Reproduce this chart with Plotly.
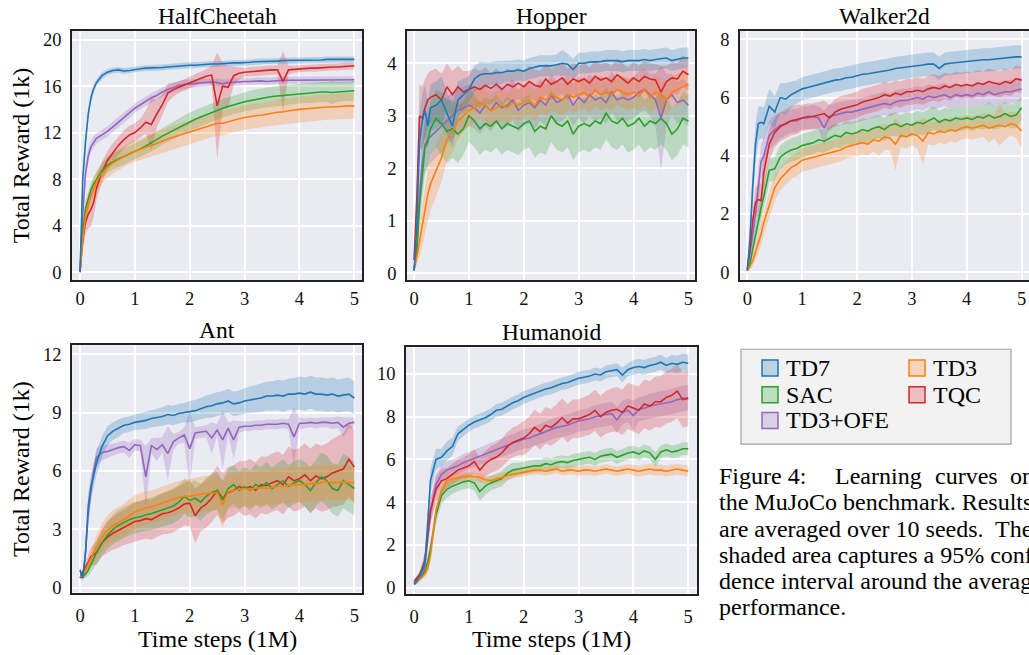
import plotly.graph_objects as go

W, H = 1029, 655
FONT = "Liberation Serif, Times New Roman, serif"

# ---------------- data ----------------
X = [0, 0.05, 0.1, 0.15, 0.2, 0.25,
     0.3, 0.4, 0.5, 0.6, 0.7, 0.8, 0.9,
     1.0, 1.1, 1.2, 1.3, 1.4, 1.5, 1.6, 1.7, 1.8, 1.9,
     2.0, 2.1, 2.2, 2.3, 2.4, 2.5, 2.6, 2.7, 2.8, 2.9,
     3.0, 3.1, 3.2, 3.3, 3.4, 3.5, 3.6, 3.7, 3.8, 3.9,
     4.0, 4.1, 4.2, 4.3, 4.4, 4.5, 4.6, 4.7, 4.8, 4.9, 5.0]

ALGOS = ["TD7", "TD3", "SAC", "TQC", "TD3+OFE"]
COLORS = {"TD7": "#1f77b4", "TD3": "#ff7f0e", "SAC": "#2ca02c",
          "TQC": "#d62728", "TD3+OFE": "#9467bd"}
ENVS = ["HalfCheetah", "Hopper", "Walker2d", "Ant", "Humanoid"]
YTICKS = {"HalfCheetah": [0, 4, 8, 12, 16, 20], "Hopper": [0, 1, 2, 3, 4],
          "Walker2d": [0, 2, 4, 6, 8], "Ant": [0, 3, 6, 9, 12],
          "Humanoid": [0, 2, 4, 6, 8, 10]}
XTICKS = [0, 1, 2, 3, 4, 5]

# HalfCheetah
HC_TD7 = [0, 8.0, 11.2, 13.6, 15.0, 15.8,
          16.3, 16.9, 17.2, 17.35, 17.4, 17.3, 17.35,
          17.45, 17.5, 17.55, 17.55, 17.6, 17.6, 17.65, 17.7, 17.7, 17.75,
          17.8, 17.8, 17.85, 17.9, 17.9, 17.9, 17.95, 17.95, 18.0, 18.0,
          18.0, 18.05, 18.1, 18.1, 18.15, 18.15, 18.15, 18.2, 18.2, 18.2,
          18.2, 18.25, 18.25, 18.25, 18.25, 18.3, 18.3, 18.3, 18.3, 18.3, 18.3]
HC_TD7_CI = [0, 0.8, 0.7, 0.5, 0.4, 0.35,
             0.3, 0.3, 0.25, 0.25, 0.25, 0.25, 0.25,
             0.25, 0.25, 0.25, 0.25, 0.25, 0.25, 0.25, 0.25, 0.25, 0.25,
             0.25, 0.25, 0.25, 0.25, 0.25, 0.25, 0.25, 0.25, 0.25, 0.25,
             0.25, 0.25, 0.25, 0.25, 0.25, 0.25, 0.25, 0.25, 0.25, 0.25,
             0.25, 0.25, 0.25, 0.25, 0.25, 0.25, 0.25, 0.25, 0.25, 0.25, 0.25]
HC_TD3 = [0, 2.8, 4.8, 5.8, 6.6, 7.2,
          7.8, 8.5, 9.0, 9.4, 9.7, 9.95, 10.2,
          10.4, 10.6, 10.75, 10.9, 11.1, 11.3, 11.45, 11.6, 11.75, 11.9,
          12.0, 12.15, 12.3, 12.45, 12.6, 12.8, 12.8, 12.95, 13.1, 13.2,
          13.3, 13.4, 13.45, 13.5, 13.6, 13.7, 13.75, 13.8, 13.9, 13.95,
          14.0, 14.05, 14.1, 14.1, 14.15, 14.2, 14.2, 14.25, 14.25, 14.3, 14.3]
HC_TD3_CI = [0, 0.6, 0.8, 0.9, 0.9, 0.9,
             0.9, 0.9, 0.9, 0.9, 0.9, 0.9, 0.9,
             0.9, 0.9, 0.95, 0.95, 1.0, 1.0, 1.0, 1.0, 1.0, 1.0,
             1.0, 1.0, 1.0, 1.0, 1.0, 1.05, 1.05, 1.05, 1.05, 1.05,
             1.05, 1.05, 1.05, 1.05, 1.05, 1.1, 1.1, 1.1, 1.1, 1.1,
             1.1, 1.1, 1.1, 1.1, 1.1, 1.1, 1.1, 1.1, 1.1, 1.1, 1.1]
HC_SAC = [0, 3.5, 5.5, 6.4, 7.1, 7.6,
          8.0, 8.7, 9.2, 9.5, 9.75, 9.95, 10.15,
          10.4, 10.6, 10.85, 11.1, 11.4, 11.7, 11.95, 12.2, 12.45, 12.7,
          12.95, 13.15, 13.35, 13.55, 13.75, 13.95, 14.1, 14.25, 14.4, 14.55,
          14.65, 14.75, 14.85, 14.95, 15.05, 15.1, 15.15, 15.2, 15.25, 15.3,
          15.35, 15.4, 15.4, 15.45, 15.5, 15.5, 15.45, 15.5, 15.55, 15.6, 15.6]
HC_SAC_CI = [0, 0.5, 0.6, 0.6, 0.6, 0.6,
             0.6, 0.6, 0.65, 0.65, 0.7, 0.7, 0.7,
             0.7, 0.7, 0.7, 0.72, 0.72, 0.72, 0.75, 0.75, 0.75, 0.75,
             0.8, 0.8, 0.8, 0.8, 0.8, 0.8, 0.8, 0.8, 0.8, 0.8,
             0.85, 0.85, 0.85, 0.85, 0.85, 0.85, 0.85, 0.85, 0.85, 0.85,
             0.85, 0.85, 0.85, 0.85, 0.85, 0.85, 1.0, 0.85, 0.85, 0.85, 0.85]
HC_TQC = [0, 2.8, 4.3, 5.0, 5.4, 6.0,
          7.2, 8.6, 9.6, 10.3, 10.9, 11.4, 11.8,
          12.0, 12.4, 12.9, 12.7, 13.6, 14.4, 15.4, 15.7, 15.9, 16.1,
          16.3, 16.5, 16.7, 16.85, 16.95, 14.3, 16.0, 15.9, 16.9, 17.1,
          17.2, 17.25, 17.3, 17.3, 17.35, 17.4, 17.4, 16.4, 17.4, 17.45,
          17.5, 17.5, 17.55, 17.55, 17.6, 17.6, 17.65, 17.65, 17.7, 17.7, 17.75]
HC_TQC_CI = [0, 1.0, 1.0, 1.2, 1.5, 1.2,
             1.0, 0.9, 0.8, 0.8, 0.8, 0.8, 0.8,
             0.8, 0.8, 1.0, 2.3, 1.2, 0.9, 0.8, 0.6, 0.5, 0.5,
             0.5, 0.5, 0.5, 0.6, 0.8, 4.6, 2.0, 1.8, 0.8, 0.5,
             0.4, 0.4, 0.4, 0.4, 0.4, 0.4, 0.4, 2.6, 0.4, 0.3,
             0.3, 0.3, 0.3, 0.3, 0.3, 0.3, 0.3, 0.3, 0.3, 0.3, 0.3]
HC_OFE = [0, 5.0, 8.5, 10.0, 10.8, 11.2,
          11.5, 11.8, 12.1, 12.5, 12.9, 13.3, 13.7,
          14.1, 14.4, 14.7, 15.0, 15.2, 15.5, 15.7, 15.9, 16.05, 16.15,
          16.2, 16.25, 16.3, 16.3, 16.35, 16.3, 16.2, 16.3, 16.35, 16.4,
          16.4, 16.4, 16.45, 16.45, 16.4, 16.45, 16.5, 16.5, 16.5, 16.5,
          16.5, 16.5, 16.55, 16.5, 16.5, 16.55, 16.5, 16.5, 16.55, 16.55, 16.55]
HC_OFE_CI = [0, 0.8, 0.8, 0.6, 0.5, 0.5,
             0.45, 0.45, 0.45, 0.45, 0.45, 0.45, 0.45,
             0.4, 0.4, 0.4, 0.4, 0.4, 0.4, 0.4, 0.4, 0.4, 0.4,
             0.35, 0.35, 0.35, 0.35, 0.35, 0.35, 0.35, 0.35, 0.35, 0.35,
             0.3, 0.3, 0.3, 0.3, 0.3, 0.3, 0.3, 0.3, 0.3, 0.3,
             0.3, 0.3, 0.3, 0.3, 0.3, 0.3, 0.3, 0.3, 0.3, 0.3, 0.3]

# Hopper
HO_TD7 = [0.05, 0.9, 2.5, 2.9, 3.1, 2.8,
          3.15, 3.2, 3.3, 3.05, 2.8, 3.3, 3.4,
          3.5, 3.7, 3.78, 3.8, 3.8, 3.82, 3.82, 3.85, 3.85, 3.87,
          3.85, 3.9, 3.92, 3.95, 3.95, 3.95, 3.97, 4.0, 3.98, 3.88,
          4.0, 4.0, 4.02, 4.02, 4.03, 4.05, 4.05, 4.05, 4.03, 4.05,
          4.05, 4.05, 4.07, 4.05, 4.07, 4.08, 4.1, 4.05, 4.08, 4.1, 4.1]
HO_TD7_CI = [0, 0.2, 0.5, 0.5, 0.5, 0.45,
             0.45, 0.45, 0.45, 0.4, 0.4, 0.35, 0.3,
             0.25, 0.25, 0.25, 0.22, 0.22, 0.22, 0.22, 0.2, 0.2, 0.2,
             0.2, 0.2, 0.2, 0.2, 0.2, 0.2, 0.2, 0.25, 0.2, 0.2,
             0.2, 0.2, 0.2, 0.2, 0.2, 0.2, 0.2, 0.2, 0.2, 0.2,
             0.2, 0.2, 0.2, 0.2, 0.2, 0.2, 0.2, 0.2, 0.2, 0.2, 0.2]
HO_TD3 = [0.1, 0.3, 0.6, 0.9, 1.2, 1.5,
          1.7, 1.95, 2.2, 2.55, 2.7, 2.9, 3.0,
          3.1, 3.15, 3.25, 3.2, 3.1, 3.15, 3.2, 3.15, 3.25, 3.2,
          3.25, 3.3, 3.2, 3.35, 3.3, 3.4, 3.35, 3.3, 3.4, 3.35,
          3.4, 3.45, 3.35, 3.5, 3.4, 3.45, 3.4, 3.5, 3.45, 3.4,
          3.45, 3.4, 3.5, 3.35, 3.45, 3.4, 3.3, 3.45, 3.5, 3.55, 3.6]
HO_TD3_CI = [0, 0.15, 0.3, 0.4, 0.45, 0.5,
             0.5, 0.5, 0.45, 0.4, 0.4, 0.35, 0.3,
             0.3, 0.3, 0.3, 0.3, 0.3, 0.3, 0.3, 0.3, 0.3, 0.3,
             0.3, 0.3, 0.3, 0.3, 0.3, 0.3, 0.3, 0.3, 0.3, 0.3,
             0.3, 0.3, 0.3, 0.3, 0.3, 0.3, 0.3, 0.3, 0.3, 0.3,
             0.3, 0.3, 0.3, 0.3, 0.3, 0.3, 0.3, 0.3, 0.3, 0.3, 0.3]
HO_SAC = [0.05, 0.4, 1.3, 1.9, 2.4, 2.5,
          2.75, 2.95, 2.85, 2.7, 2.75, 2.65, 2.75,
          3.0, 2.9, 2.75, 2.85, 2.8, 2.9, 2.75, 2.85, 2.8, 2.75,
          2.85, 2.9, 2.7, 2.8, 2.75, 3.0, 2.85, 2.8, 2.9, 2.65,
          2.8, 2.85, 2.8, 2.9, 2.85, 3.05, 2.9, 2.85, 2.95, 2.8,
          2.85, 2.95, 2.8, 2.9, 2.85, 2.95, 2.85, 2.65, 2.75, 2.95, 2.9]
HO_SAC_CI = [0, 0.2, 0.4, 0.5, 0.5, 0.5,
             0.5, 0.55, 0.6, 0.6, 0.55, 0.55, 0.5,
             0.5, 0.5, 0.5, 0.5, 0.5, 0.5, 0.5, 0.5, 0.5, 0.5,
             0.5, 0.5, 0.5, 0.5, 0.5, 0.5, 0.5, 0.5, 0.5, 0.5,
             0.5, 0.5, 0.5, 0.5, 0.5, 0.5, 0.5, 0.5, 0.5, 0.5,
             0.5, 0.5, 0.5, 0.5, 0.5, 0.5, 0.5, 0.5, 0.5, 0.5, 0.5]
HO_TQC = [0.25, 1.4, 3.0, 2.95, 3.15, 3.3,
          3.35, 3.4, 3.3, 3.55, 3.4, 3.55, 3.45,
          3.5, 3.55, 3.5, 3.58, 3.52, 3.6, 3.5, 3.6, 3.55, 3.62,
          3.55, 3.65, 3.58, 3.55, 3.7, 3.6, 3.65, 3.72, 3.6, 3.7,
          3.65, 3.7, 3.62, 3.75, 3.68, 3.72, 3.65, 3.78, 3.7, 3.62,
          3.72, 3.65, 3.75, 3.7, 3.68, 3.45, 3.65, 3.72, 3.7, 3.85, 3.78]
HO_TQC_CI = [0, 0.3, 0.6, 0.6, 0.55, 0.5,
             0.5, 0.5, 0.5, 0.45, 0.45, 0.4, 0.4,
             0.35, 0.35, 0.35, 0.35, 0.3, 0.3, 0.3, 0.3, 0.3, 0.3,
             0.3, 0.3, 0.3, 0.3, 0.3, 0.3, 0.3, 0.3, 0.3, 0.3,
             0.3, 0.3, 0.3, 0.3, 0.3, 0.3, 0.3, 0.3, 0.3, 0.3,
             0.3, 0.3, 0.3, 0.3, 0.3, 0.5, 0.3, 0.3, 0.3, 0.3, 0.3]
HO_OFE = [0.05, 0.5, 1.5, 2.1, 2.45, 2.55,
          2.6, 2.7, 2.8, 2.9, 3.0, 3.1, 3.15,
          3.2, 3.15, 3.05, 3.2, 3.1, 3.25, 3.15, 3.2, 3.3, 3.1,
          3.2, 3.25, 3.15, 3.3, 3.2, 3.4, 3.25, 3.3, 3.4, 3.2,
          3.35, 3.25, 3.4, 3.3, 3.35, 3.25, 3.45, 3.3, 3.35, 3.3,
          3.35, 3.45, 3.5, 3.4, 3.3, 2.95, 3.3, 3.4, 3.25, 3.3, 3.2]
HO_OFE_CI = [0, 0.2, 0.4, 0.5, 0.5, 0.5,
             0.5, 0.5, 0.5, 0.45, 0.45, 0.4, 0.4,
             0.4, 0.4, 0.4, 0.4, 0.4, 0.4, 0.4, 0.4, 0.4, 0.4,
             0.4, 0.4, 0.4, 0.4, 0.4, 0.4, 0.4, 0.4, 0.4, 0.4,
             0.4, 0.4, 0.4, 0.4, 0.4, 0.4, 0.4, 0.4, 0.4, 0.4,
             0.4, 0.4, 0.4, 0.4, 0.5, 1.0, 0.5, 0.4, 0.4, 0.4, 0.4]

# Walker2d
WA_TD7 = [0.05, 1.2, 3.0, 4.4, 5.1, 5.15,
          5.1, 5.7, 5.5, 6.0, 5.95, 6.1, 6.2,
          6.3, 6.35, 6.4, 6.45, 6.5, 6.55, 6.6, 6.62, 6.68, 6.7,
          6.75, 6.8, 6.82, 6.85, 6.9, 6.92, 6.95, 7.0, 7.02, 7.05,
          7.08, 7.1, 7.12, 7.15, 7.15, 7.0, 7.15, 7.18, 7.2, 7.22,
          7.25, 7.25, 7.28, 7.3, 7.3, 7.32, 7.35, 7.35, 7.38, 7.4, 7.4]
WA_TD7_CI = [0, 0.3, 0.6, 0.7, 0.6, 0.55,
             0.55, 0.6, 0.55, 0.5, 0.55, 0.45, 0.4,
             0.4, 0.4, 0.4, 0.4, 0.4, 0.4, 0.4, 0.4, 0.4, 0.4,
             0.4, 0.4, 0.4, 0.4, 0.4, 0.4, 0.4, 0.4, 0.4, 0.4,
             0.4, 0.4, 0.4, 0.4, 0.4, 0.4, 0.4, 0.4, 0.4, 0.4,
             0.4, 0.4, 0.4, 0.4, 0.4, 0.4, 0.4, 0.4, 0.4, 0.4, 0.4]
WA_TD3 = [0.05, 0.2, 0.4, 0.7, 1.0, 1.3,
          1.7, 2.3, 2.9, 3.2, 3.4, 3.6, 3.7,
          3.85, 3.9, 3.95, 4.0, 4.05, 4.1, 4.15, 4.2, 4.3, 4.35,
          4.4, 4.45, 4.4, 4.55, 4.5, 4.65, 4.6, 4.4, 4.7, 4.65,
          4.75, 4.7, 4.5, 4.8, 4.75, 4.85, 4.8, 4.9, 4.85, 4.95,
          5.0, 4.95, 5.0, 5.05, 4.95, 5.0, 5.05, 5.0, 5.1, 5.05, 4.85]
WA_TD3_CI = [0, 0.1, 0.2, 0.3, 0.35, 0.4,
             0.4, 0.45, 0.45, 0.4, 0.4, 0.4, 0.4,
             0.4, 0.4, 0.4, 0.4, 0.4, 0.4, 0.4, 0.4, 0.4, 0.4,
             0.4, 0.4, 0.4, 0.4, 0.5, 0.45, 0.4, 0.9, 0.4, 0.4,
             0.4, 0.45, 0.8, 0.4, 0.4, 0.4, 0.4, 0.4, 0.4, 0.4,
             0.4, 0.4, 0.4, 0.4, 0.5, 0.4, 0.7, 0.45, 0.4, 0.45, 0.6]
WA_SAC = [0.05, 0.3, 0.8, 1.3, 1.8, 2.2,
          2.6, 3.5, 3.55, 3.95, 4.1, 4.2, 4.25,
          4.35, 4.4, 4.45, 4.55, 4.5, 4.6, 4.7, 4.65, 4.8, 4.75,
          4.8, 4.9, 4.85, 4.95, 5.0, 4.9, 5.05, 5.1, 5.0, 5.1,
          5.05, 5.15, 5.1, 5.2, 5.3, 5.15, 5.25, 5.2, 5.3, 5.25,
          5.3, 5.25, 5.35, 5.3, 5.4, 5.3, 5.35, 5.45, 5.35, 5.4, 5.65]
WA_SAC_CI = [0, 0.1, 0.25, 0.35, 0.4, 0.4,
             0.4, 0.4, 0.4, 0.4, 0.4, 0.4, 0.4,
             0.4, 0.4, 0.4, 0.4, 0.4, 0.4, 0.4, 0.4, 0.4, 0.4,
             0.4, 0.4, 0.4, 0.4, 0.4, 0.4, 0.4, 0.4, 0.4, 0.4,
             0.4, 0.4, 0.4, 0.4, 0.4, 0.4, 0.4, 0.4, 0.4, 0.4,
             0.4, 0.4, 0.4, 0.4, 0.45, 0.4, 0.4, 0.4, 0.4, 0.45, 0.4]
WA_TQC = [0.1, 0.8, 1.8, 2.4, 2.5, 2.45,
          3.4, 4.4, 4.8, 5.0, 5.1, 5.2, 5.25,
          5.3, 5.35, 5.35, 5.4, 5.45, 5.3, 5.5, 5.6, 5.65, 5.7,
          5.75, 5.85, 5.9, 5.95, 6.0, 6.1, 6.05, 6.15, 6.1, 6.2,
          6.2, 6.25, 6.2, 6.3, 6.35, 6.3, 6.4, 6.35, 6.45, 6.4,
          6.45, 6.4, 6.5, 6.45, 6.55, 6.5, 6.45, 6.55, 6.5, 6.65, 6.6]
WA_TQC_CI = [0, 0.2, 0.4, 0.5, 0.55, 0.6,
             0.6, 0.55, 0.5, 0.5, 0.5, 0.5, 0.5,
             0.45, 0.45, 0.45, 0.45, 0.45, 0.45, 0.45, 0.45, 0.45, 0.45,
             0.45, 0.45, 0.45, 0.45, 0.45, 0.45, 0.45, 0.45, 0.45, 0.45,
             0.45, 0.45, 0.45, 0.45, 0.45, 0.45, 0.45, 0.45, 0.45, 0.45,
             0.45, 0.45, 0.45, 0.45, 0.45, 0.45, 0.45, 0.45, 0.45, 0.45, 0.45]
WA_OFE = [0.05, 0.6, 1.3, 2.0, 3.0, 3.8,
          4.0, 4.7, 4.9, 5.05, 5.1, 5.2, 5.2,
          5.3, 5.3, 5.35, 5.3, 4.95, 5.35, 5.4, 5.45, 5.5, 5.5,
          5.55, 5.6, 5.65, 5.7, 5.75, 5.8, 5.75, 5.85, 5.9, 5.9,
          5.95, 6.0, 5.95, 6.05, 6.0, 6.05, 6.1, 6.0, 6.1, 6.05,
          6.1, 6.05, 6.15, 6.1, 6.2, 6.1, 6.15, 6.2, 6.2, 6.25, 6.3]
WA_OFE_CI = [0, 0.2, 0.4, 0.5, 0.6, 0.6,
             0.6, 0.5, 0.5, 0.45, 0.4, 0.4, 0.4,
             0.4, 0.4, 0.4, 0.4, 0.6, 0.4, 0.4, 0.4, 0.4, 0.4,
             0.4, 0.4, 0.4, 0.4, 0.4, 0.4, 0.4, 0.4, 0.4, 0.4,
             0.4, 0.4, 0.4, 0.4, 0.4, 0.4, 0.4, 0.4, 0.4, 0.4,
             0.4, 0.4, 0.4, 0.4, 0.4, 0.4, 0.4, 0.4, 0.4, 0.4, 0.4]

# Ant
AN_TD7 = [0.9, 0.5, 1.8, 4.2, 5.2, 5.8,
          6.4, 7.25, 7.8, 8.05, 8.2, 8.35, 8.4,
          8.5, 8.55, 8.6, 8.7, 8.75, 8.8, 8.9, 8.85, 8.95, 9.0,
          9.05, 9.1, 9.2, 9.3, 9.35, 9.45, 9.5, 9.6, 9.45, 9.5,
          9.6, 9.65, 9.7, 9.75, 9.85, 9.85, 9.9, 9.85, 9.95, 9.95,
          10.0, 9.95, 10.05, 9.95, 9.95, 9.9, 9.95, 9.85, 9.9, 9.95, 9.75]
AN_TD7_CI = [0.15, 0.15, 0.4, 0.6, 0.6, 0.6,
             0.6, 0.55, 0.5, 0.45, 0.45, 0.4, 0.4,
             0.4, 0.42, 0.44, 0.45, 0.46, 0.48, 0.5, 0.5, 0.5, 0.5,
             0.55, 0.55, 0.55, 0.58, 0.6, 0.6, 0.6, 0.62, 0.62, 0.64,
             0.65, 0.68, 0.7, 0.72, 0.74, 0.76, 0.78, 0.8, 0.8, 0.82,
             0.85, 0.85, 0.85, 0.85, 0.85, 0.85, 0.85, 0.85, 0.85, 0.85, 0.85]
AN_TD3 = [0.6, 0.6, 0.9, 1.2, 1.5, 1.8,
          2.1, 2.6, 2.95, 3.2, 3.35, 3.5, 3.7,
          3.9, 4.0, 4.1, 4.15, 4.25, 4.35, 4.45, 4.55, 4.65, 4.7,
          4.7, 4.75, 4.8, 4.85, 4.85, 4.9, 4.25, 4.95, 5.0, 5.05,
          5.1, 5.05, 5.1, 5.15, 5.1, 5.15, 5.2, 5.2, 5.25, 5.3,
          5.3, 5.3, 5.35, 5.35, 5.4, 5.45, 5.4, 5.4, 5.45, 5.4, 5.4]
AN_TD3_CI = [0.1, 0.1, 0.2, 0.3, 0.4, 0.5,
             0.6, 0.7, 0.75, 0.8, 0.8, 0.8, 0.85,
             0.85, 0.85, 0.85, 0.85, 0.85, 0.85, 0.85, 0.85, 0.85, 0.85,
             0.9, 0.9, 0.9, 0.9, 0.9, 0.9, 1.2, 0.9, 0.9, 0.9,
             0.9, 0.9, 0.9, 0.9, 0.9, 0.9, 0.9, 0.9, 0.9, 0.9,
             0.9, 0.9, 0.9, 0.9, 0.9, 0.9, 0.9, 0.9, 0.9, 0.9, 0.9]
AN_SAC = [0.6, 0.55, 0.7, 0.9, 1.2, 1.5,
          1.8, 2.3, 2.7, 3.0, 3.2, 3.35, 3.5,
          3.6, 3.65, 3.75, 3.8, 3.9, 4.0, 4.1, 4.2, 4.4, 4.7,
          4.5, 4.6, 4.4, 4.7, 4.9, 5.0, 4.5, 5.1, 5.3, 5.0,
          5.2, 5.0, 5.3, 5.15, 5.4, 5.1, 5.3, 5.5, 5.2, 5.4,
          5.5, 5.3, 5.0, 5.4, 5.7, 5.5, 5.1, 5.0, 5.5, 5.3, 5.1]
AN_SAC_CI = [0.1, 0.1, 0.2, 0.3, 0.4, 0.5,
             0.6, 0.65, 0.7, 0.75, 0.8, 0.8, 0.8,
             0.8, 0.8, 0.82, 0.84, 0.85, 0.86, 0.88, 0.9, 0.9, 0.9,
             0.9, 0.92, 0.94, 0.95, 0.96, 0.98, 1.0, 1.0, 1.0, 1.0,
             1.0, 1.02, 1.04, 1.05, 1.06, 1.08, 1.1, 1.1, 1.1, 1.1,
             1.1, 1.15, 1.2, 1.2, 1.25, 1.3, 1.3, 1.35, 1.4, 1.4, 1.4]
AN_TQC = [0.5, 0.8, 1.1, 1.3, 1.6, 1.7,
          1.8, 2.3, 2.6, 2.8, 2.95, 3.1, 3.25,
          3.4, 3.45, 3.55, 3.5, 3.65, 3.8, 3.85, 3.95, 4.1, 4.3,
          4.35, 3.7, 4.1, 4.3, 4.6, 5.0, 4.6, 4.9, 5.0, 5.2,
          5.1, 5.2, 5.0, 5.3, 5.25, 5.4, 5.5, 5.3, 5.7, 5.5,
          5.6, 5.8, 5.5, 5.75, 5.6, 5.7, 5.9, 6.0, 6.1, 6.6, 6.2]
AN_TQC_CI = [0.1, 0.15, 0.25, 0.35, 0.45, 0.55,
             0.6, 0.7, 0.8, 0.85, 0.9, 0.9, 0.95,
             1.0, 1.0, 1.02, 1.04, 1.05, 1.06, 1.08, 1.1, 1.1, 1.1,
             1.2, 1.4, 1.2, 1.22, 1.24, 1.26, 1.28, 1.3, 1.3, 1.3,
             1.4, 1.42, 1.44, 1.46, 1.48, 1.5, 1.52, 1.54, 1.56, 1.58,
             1.6, 1.62, 1.64, 1.66, 1.7, 1.72, 1.75, 1.8, 1.85, 1.9, 1.9]
AN_OFE = [0.9, 0.5, 1.8, 3.8, 5.0, 6.0,
          6.7, 6.95, 7.0, 7.1, 7.2, 7.25, 7.05,
          7.35, 7.3, 5.7, 7.3, 7.1, 7.35, 6.9, 7.5, 7.7, 7.85,
          7.15, 7.95, 8.0, 8.05, 7.7, 8.1, 7.6, 8.2, 7.6, 8.25,
          8.3, 8.3, 8.35, 8.35, 8.4, 8.4, 8.4, 8.45, 8.4, 7.75,
          8.45, 8.45, 8.5, 8.45, 8.5, 8.5, 8.45, 8.5, 8.25, 8.45, 8.5]
AN_OFE_CI = [0.15, 0.15, 0.4, 0.6, 0.6, 0.5,
             0.5, 0.4, 0.35, 0.3, 0.3, 0.3, 0.4,
             0.3, 0.3, 1.6, 0.4, 0.6, 0.4, 1.4, 0.4, 0.3, 0.4,
             1.9, 0.3, 0.3, 0.3, 0.8, 0.3, 1.5, 0.3, 1.0, 0.3,
             0.25, 0.25, 0.25, 0.25, 0.25, 0.25, 0.25, 0.25, 0.25, 1.5,
             0.3, 0.25, 0.25, 0.25, 0.25, 0.25, 0.3, 0.3, 0.5, 0.3, 0.25]

# Humanoid
HU_TD7 = [0.15, 0.3, 0.5, 0.8, 1.2, 3.0,
          5.0, 6.0, 6.1, 6.4, 6.6, 7.2, 7.4,
          7.6, 7.75, 7.85, 7.95, 8.1, 8.3, 8.35, 8.5, 8.65, 8.75,
          8.9, 9.0, 9.1, 9.2, 9.3, 9.35, 9.45, 9.55, 9.6, 9.7,
          9.8, 9.85, 9.9, 10.0, 9.95, 10.1, 10.15, 10.2, 9.95, 10.2,
          10.3, 10.35, 10.3, 10.4, 10.45, 10.55, 10.4, 10.5, 10.45, 10.55, 10.5]
HU_TD7_CI = [0.05, 0.1, 0.15, 0.25, 0.4, 0.6,
             0.6, 0.5, 0.4, 0.45, 0.4, 0.35, 0.3,
             0.3, 0.3, 0.3, 0.3, 0.3, 0.3, 0.3, 0.3, 0.3, 0.3,
             0.3, 0.3, 0.3, 0.3, 0.3, 0.3, 0.3, 0.3, 0.3, 0.3,
             0.3, 0.3, 0.3, 0.3, 0.3, 0.3, 0.3, 0.3, 0.35, 0.3,
             0.35, 0.35, 0.35, 0.35, 0.35, 0.35, 0.35, 0.4, 0.4, 0.4, 0.4]
HU_TD3 = [0.2, 0.3, 0.4, 0.5, 0.65, 0.9,
          1.5, 3.6, 4.5, 5.0, 5.1, 5.15, 5.2,
          5.2, 5.2, 5.15, 5.05, 5.0, 5.1, 5.15, 5.25, 5.3, 5.35,
          5.4, 5.45, 5.5, 5.5, 5.45, 5.5, 5.55, 5.45, 5.5, 5.5,
          5.45, 5.5, 5.5, 5.45, 5.5, 5.55, 5.5, 5.45, 5.5, 5.55,
          5.5, 5.45, 5.5, 5.55, 5.5, 5.5, 5.45, 5.5, 5.55, 5.5, 5.45]
HU_TD3_CI = [0.05, 0.05, 0.1, 0.1, 0.15, 0.2,
             0.3, 0.35, 0.3, 0.25, 0.25, 0.2, 0.2,
             0.2, 0.2, 0.2, 0.2, 0.2, 0.2, 0.2, 0.2, 0.2, 0.2,
             0.2, 0.2, 0.2, 0.2, 0.2, 0.2, 0.2, 0.2, 0.2, 0.2,
             0.22, 0.22, 0.22, 0.22, 0.22, 0.22, 0.22, 0.22, 0.22, 0.22,
             0.25, 0.25, 0.25, 0.25, 0.25, 0.25, 0.25, 0.25, 0.25, 0.25, 0.25]
HU_SAC = [0.15, 0.25, 0.4, 0.55, 0.8, 1.2,
          1.8, 3.4, 4.3, 4.6, 4.75, 4.85, 4.95,
          5.0, 4.9, 4.5, 4.75, 4.9, 5.0, 5.1, 5.35, 5.5, 5.55,
          5.6, 5.65, 5.7, 5.7, 5.8, 5.75, 5.85, 5.9, 5.85, 5.95,
          6.0, 6.05, 6.1, 6.0, 6.15, 6.2, 6.25, 6.1, 6.2, 6.3,
          6.35, 6.25, 6.4, 6.3, 6.0, 6.35, 6.45, 6.35, 6.4, 6.5, 6.5]
HU_SAC_CI = [0.05, 0.1, 0.1, 0.15, 0.2, 0.3,
             0.35, 0.4, 0.4, 0.4, 0.35, 0.35, 0.35,
             0.35, 0.35, 0.45, 0.4, 0.35, 0.35, 0.35, 0.35, 0.35, 0.3,
             0.3, 0.3, 0.3, 0.3, 0.3, 0.3, 0.3, 0.3, 0.3, 0.3,
             0.3, 0.3, 0.3, 0.3, 0.3, 0.3, 0.3, 0.3, 0.3, 0.3,
             0.3, 0.3, 0.3, 0.3, 0.35, 0.3, 0.3, 0.3, 0.3, 0.3, 0.3]
HU_TQC = [0.3, 0.45, 0.6, 0.9, 1.3, 2.5,
          3.6, 4.6, 5.0, 5.1, 5.3, 5.5, 5.6,
          5.7, 5.9, 5.5, 5.8, 6.0, 6.1, 6.3, 6.6, 6.8, 6.9,
          7.0, 7.2, 7.5, 7.3, 7.6, 7.5, 7.7, 7.95, 7.7, 7.9,
          7.9, 8.0, 8.1, 8.3, 8.0, 8.2, 8.3, 8.35, 8.2, 8.5,
          8.4, 8.3, 8.6, 8.5, 8.7, 8.7, 8.9, 9.0, 9.2, 8.8, 8.85]
HU_TQC_CI = [0.05, 0.1, 0.15, 0.3, 0.4, 0.5,
             0.6, 0.6, 0.55, 0.5, 0.5, 0.5, 0.5,
             0.55, 0.57, 0.6, 0.6, 0.62, 0.64, 0.66, 0.68, 0.7, 0.7,
             0.8, 0.8, 0.82, 0.84, 0.85, 0.86, 0.88, 0.9, 0.9, 0.9,
             0.9, 0.92, 0.94, 0.96, 0.98, 1.0, 1.02, 1.04, 1.06, 1.08,
             1.1, 1.12, 1.14, 1.16, 1.18, 1.2, 1.22, 1.24, 1.26, 1.3, 1.3]
HU_OFE = [0.2, 0.35, 0.55, 0.8, 1.0, 2.3,
          3.5, 4.8, 5.3, 5.5, 5.6, 5.7, 5.85,
          5.95, 6.05, 6.15, 6.25, 6.35, 6.45, 6.55, 6.65, 6.75, 6.85,
          6.95, 7.0, 7.1, 7.2, 7.3, 7.4, 7.5, 7.55, 7.6, 7.7,
          7.8, 7.85, 7.9, 8.0, 8.05, 8.1, 8.15, 7.85, 8.2, 8.3,
          8.05, 8.35, 8.4, 8.5, 8.55, 8.6, 8.65, 8.7, 8.8, 8.85, 8.9]
HU_OFE_CI = [0.05, 0.1, 0.15, 0.25, 0.35, 0.5,
             0.5, 0.5, 0.45, 0.4, 0.4, 0.4, 0.4,
             0.4, 0.4, 0.4, 0.4, 0.42, 0.42, 0.44, 0.44, 0.45, 0.45,
             0.45, 0.46, 0.46, 0.47, 0.47, 0.48, 0.48, 0.49, 0.5, 0.5,
             0.5, 0.51, 0.52, 0.53, 0.54, 0.55, 0.55, 0.6, 0.55, 0.55,
             0.7, 0.56, 0.57, 0.58, 0.58, 0.59, 0.6, 0.6, 0.6, 0.6, 0.6]

DATA = {
    "HalfCheetah": {"TD7": (HC_TD7, HC_TD7_CI), "TD3": (HC_TD3, HC_TD3_CI),
                    "SAC": (HC_SAC, HC_SAC_CI), "TQC": (HC_TQC, HC_TQC_CI),
                    "TD3+OFE": (HC_OFE, HC_OFE_CI)},
    "Hopper": {"TD7": (HO_TD7, HO_TD7_CI), "TD3": (HO_TD3, HO_TD3_CI),
               "SAC": (HO_SAC, HO_SAC_CI), "TQC": (HO_TQC, HO_TQC_CI),
               "TD3+OFE": (HO_OFE, HO_OFE_CI)},
    "Walker2d": {"TD7": (WA_TD7, WA_TD7_CI), "TD3": (WA_TD3, WA_TD3_CI),
                 "SAC": (WA_SAC, WA_SAC_CI), "TQC": (WA_TQC, WA_TQC_CI),
                 "TD3+OFE": (WA_OFE, WA_OFE_CI)},
    "Ant": {"TD7": (AN_TD7, AN_TD7_CI), "TD3": (AN_TD3, AN_TD3_CI),
            "SAC": (AN_SAC, AN_SAC_CI), "TQC": (AN_TQC, AN_TQC_CI),
            "TD3+OFE": (AN_OFE, AN_OFE_CI)},
    "Humanoid": {"TD7": (HU_TD7, HU_TD7_CI), "TD3": (HU_TD3, HU_TD3_CI),
                 "SAC": (HU_SAC, HU_SAC_CI), "TQC": (HU_TQC, HU_TQC_CI),
                 "TD3+OFE": (HU_OFE, HU_OFE_CI)},
}

CAPTION_LINE1 = ["Figure 4:", "Learning", "curves", "on"]
CAPTION_LINES = ["the MuJoCo benchmark. Results",
                 "are averaged over 10 seeds.  The",
                 "shaded area captures a 95% confi-",
                 "dence interval around the average",
                 "performance."]

# ---------------- layout geometry (pixels) ----------------
def px(xp):
    return xp / W

def py(yp):
    return 1 - yp / H

# (left, right, top, bottom) in px
BOXES = {"HalfCheetah": (72, 362, 30, 282), "Hopper": (407, 695, 30, 282),
         "Walker2d": (740, 1029, 30, 282), "Ant": (72, 362, 348, 598),
         "Humanoid": (406, 697, 350, 599)}
YRANGES = {"HalfCheetah": [-0.68, 20.77], "Hopper": [-0.13, 4.62],
           "Walker2d": [-0.27, 8.3], "Ant": [-0.25, 12.46],
           "Humanoid": [-0.28, 11.25]}
XRANGES = {"HalfCheetah": [-0.146, 5.14], "Hopper": [-0.128, 5.12],
           "Walker2d": [-0.133, 5.135], "Ant": [-0.146, 5.14],
           "Humanoid": [-0.146, 5.16]}
XSTANDOFF = {"HalfCheetah": 1, "Hopper": 1, "Walker2d": 1, "Ant": 5, "Humanoid": 5}

LABEL_SIZE = 24
TITLE_SIZE = 23.5
TICK_SIZE = 18.5


def rgba(hexc, a):
    h = hexc.lstrip("#")
    r, g, b = int(h[0:2], 16), int(h[2:4], 16), int(h[4:6], 16)
    return f"rgba({r},{g},{b},{a})"


fig = go.Figure()
layout = dict(width=W, height=H, margin=dict(l=0, r=0, t=0, b=0),
              paper_bgcolor="white", plot_bgcolor="#EAEAF2",
              showlegend=False, font=dict(family=FONT, color="black"))

DRAW_ORDER = ["TD3+OFE", "TQC", "SAC", "TD3", "TD7"]
annotations = []
shapes = []

for i, env in enumerate(ENVS):
    n = i + 1
    xa = "x" if n == 1 else f"x{n}"
    ya = "y" if n == 1 else f"y{n}"
    l, r, t, b = BOXES[env]
    axis_common = dict(showline=True, linecolor="#222222",
                       linewidth=1.6, showgrid=True, gridcolor="white",
                       gridwidth=1.8, zeroline=False, ticks="",
                       tickfont=dict(family=FONT, size=TICK_SIZE, color="#111111"))
    layout["xaxis" if n == 1 else f"xaxis{n}"] = dict(
        domain=[px(l), px(r)], range=XRANGES[env], anchor=ya, mirror=True,
        tickvals=XTICKS, ticklabelstandoff=XSTANDOFF[env], **axis_common)
    layout["yaxis" if n == 1 else f"yaxis{n}"] = dict(
        domain=[py(b), py(t)], range=YRANGES[env], anchor=xa,
        mirror=(env != "Walker2d"),
        tickvals=YTICKS[env], ticklabelstandoff=5, **axis_common)

    # bands
    for algo in DRAW_ORDER:
        mean, ci = DATA[env][algo]
        assert len(mean) == len(X) and len(ci) == len(X), (env, algo, len(mean), len(ci))
        upper = [m + c for m, c in zip(mean, ci)]
        lower = [m - c for m, c in zip(mean, ci)]
        fig.add_trace(go.Scatter(
            x=X + X[::-1], y=upper + lower[::-1], fill="toself",
            fillcolor=rgba(COLORS[algo], 0.25), line=dict(width=0),
            mode="lines", hoverinfo="skip", xaxis=xa, yaxis=ya))
    # lines
    for algo in DRAW_ORDER:
        mean, ci = DATA[env][algo]
        fig.add_trace(go.Scatter(
            x=X, y=mean, mode="lines", name=algo,
            line=dict(color=COLORS[algo], width=1.6),
            xaxis=xa, yaxis=ya))

    # title
    annotations.append(dict(text=env, x=px((l + r) / 2), y=py(t - 15),
                            xref="paper", yref="paper", showarrow=False,
                            xanchor="center", yanchor="middle",
                            font=dict(family=FONT, size=TITLE_SIZE, color="black")))

# axis labels
for (l, r, t, b) in [BOXES["HalfCheetah"], BOXES["Ant"]]:
    annotations.append(dict(text="Total Reward (1k)", x=px(21), y=py((t + b) / 2),
                            xref="paper", yref="paper", showarrow=False,
                            textangle=-90, xanchor="center", yanchor="middle",
                            font=dict(family=FONT, size=LABEL_SIZE, color="black")))
for env in ["Ant", "Humanoid"]:
    l, r, t, b = BOXES[env]
    annotations.append(dict(text="Time steps (1M)", x=px((l + r) / 2), y=py(645),
                            xref="paper", yref="paper", showarrow=False,
                            xanchor="center", yanchor="middle",
                            font=dict(family=FONT, size=LABEL_SIZE, color="black")))

# legend (manual)
shapes.append(dict(type="rect", xref="paper", yref="paper",
                   x0=px(741), x1=px(1011), y0=py(448), y1=py(352),
                   fillcolor="#F2F2F2", line=dict(color="#A0A0A0", width=1.2)))
LEG_POS = {"TD7": (762, 371), "SAC": (762, 398), "TD3+OFE": (762, 424),
           "TD3": (909, 371), "TQC": (909, 398)}
for algo, (lx, ly) in LEG_POS.items():
    shapes.append(dict(type="rect", xref="paper", yref="paper",
                       x0=px(lx), x1=px(lx + 16), y0=py(ly + 8), y1=py(ly - 8),
                       fillcolor=rgba(COLORS[algo], 0.25),
                       line=dict(color=COLORS[algo], width=1.5)))
    annotations.append(dict(text=algo, x=px(lx + 22), y=py(ly), xref="paper",
                            yref="paper", showarrow=False, xanchor="left",
                            yanchor="middle",
                            font=dict(family=FONT, size=LABEL_SIZE, color="black")))

# caption
CAP_X1 = [717, 833, 933, 1008]
for word, wx in zip(CAPTION_LINE1, CAP_X1):
    annotations.append(dict(text=word, x=px(wx), y=py(480), xref="paper",
                            yref="paper", showarrow=False, xanchor="left",
                            yanchor="middle",
                            font=dict(family=FONT, size=LABEL_SIZE, color="black")))
for k, line in enumerate(CAPTION_LINES):
    annotations.append(dict(text=line, x=px(717), y=py(480 + 26.6 * (k + 1)),
                            xref="paper", yref="paper", showarrow=False,
                            xanchor="left", yanchor="middle",
                            font=dict(family=FONT, size=LABEL_SIZE, color="black")))

layout["annotations"] = annotations
layout["shapes"] = shapes
fig.update_layout(**layout)
fig.write_html("out.html", config={"displayModeBar": False},
               post_script="document.body.style.margin='0';"
                           "document.body.style.padding='0';"
                           "document.body.style.overflow='hidden';"
                           "document.documentElement.style.overflow='hidden';")
